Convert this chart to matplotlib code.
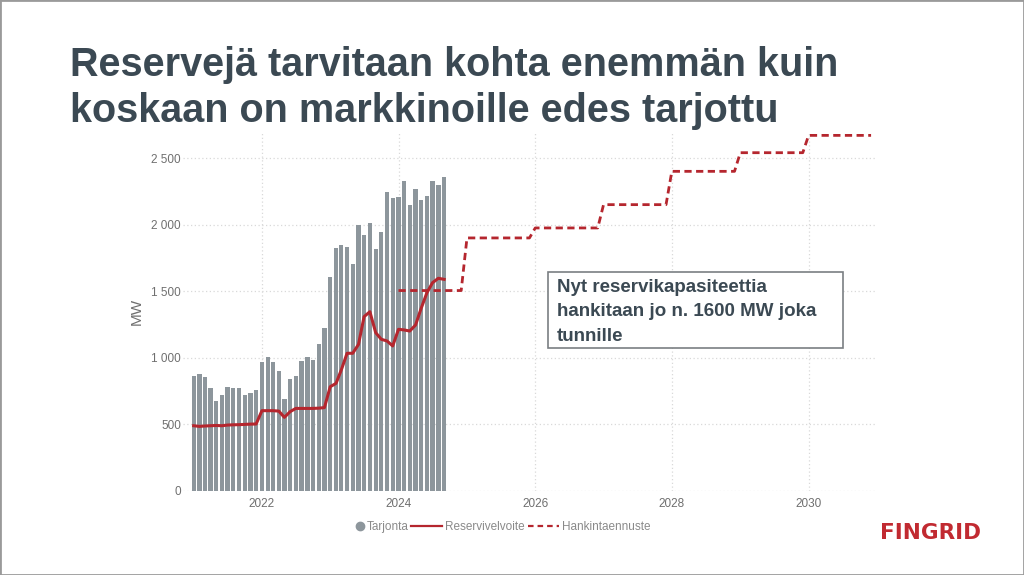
import datetime as dt
import matplotlib
matplotlib.use("Agg")
import matplotlib.pyplot as plt
from matplotlib.lines import Line2D
from matplotlib.patches import Rectangle
import matplotlib.ticker as mticker

# ---------------- data ----------------
start_year = 2021
tarjonta = [866, 878, 858, 773, 676, 718, 783, 771, 771, 721, 738, 756,
            971, 1008, 966, 903, 693, 838, 863, 976, 1003, 983, 1103, 1226,
            1609, 1822, 1847, 1829, 1704, 1994, 1919, 2014, 1819, 1947, 2242, 2202,
            2207, 2325, 2145, 2267, 2182, 2217, 2330, 2297, 2360]
reservivelvoite = [490, 485, 488, 490, 492, 490, 495, 497, 498, 500, 502, 503,
                   603, 603, 603, 600, 553, 596, 620, 620, 620, 620, 622, 626,
                   783, 808, 908, 1034, 1034, 1100, 1309, 1346, 1189, 1139, 1126, 1089,
                   1214, 1209, 1201, 1246, 1371, 1489, 1564, 1597, 1589]
hankinta_years = [2024, 2025, 2026, 2027, 2028, 2029, 2030]
hankinta_levels = [1505, 1900, 1975, 2150, 2400, 2540, 2670]

y_ticks = [0, 500, 1000, 1500, 2000, 2500]
x_tick_years = [2022, 2024, 2026, 2028, 2030]

title_text = "Reservejä tarvitaan kohta enemmän kuin\nkoskaan on markkinoille edes tarjottu"
note_text = "Nyt reservikapasiteettia\nhankitaan jo n. 1600 MW joka\ntunnille"
legend_labels = ["Tarjonta", "Reservivelvoite", "Hankintaennuste"]

# ---------------- style ----------------
BAR = "#8d969c"
RED = "#b5262e"
DARK = "#3b4953"
GRID = "#d9d9d9"
TICK = "#6f6f6f"
FONT = "Liberation Sans"

months = [dt.date(start_year + i // 12, i % 12 + 1, 1) for i in range(len(tarjonta))]
line_months = [dt.date(start_year + i // 12, i % 12 + 1, 1) for i in range(len(reservivelvoite))]

h_x, h_y = [], []
for yr, lv in zip(hankinta_years, hankinta_levels):
    h_x += [dt.date(yr, 1, 1), dt.date(yr, 12, 1)]
    h_y += [lv, lv]

fig = plt.figure(figsize=(10.24, 5.75), dpi=100)
fig.patch.set_facecolor("white")

ax = fig.add_axes([0.1787, 0.1461, 0.6758, 0.6254])
ax.set_facecolor("white")

bars = ax.bar(months, tarjonta, width=23, color=BAR, zorder=2)
line1, = ax.plot(line_months, reservivelvoite, color=RED, lw=2.2, zorder=3, solid_joinstyle="round")
line2, = ax.plot(h_x, h_y, color=RED, lw=2.0, dashes=(2.6, 1.6), zorder=3)

ax.set_xlim(dt.date(2020, 11, 5), dt.date(2030, 12, 22))
ax.set_ylim(0, 2700)
ax.set_yticks(y_ticks)
ax.yaxis.set_major_formatter(mticker.FuncFormatter(lambda v, p: f"{int(v):,}".replace(",", " ")))
ax.set_xticks([dt.date(y, 1, 1) for y in x_tick_years])
ax.set_xticklabels([str(y) for y in x_tick_years])

for s in ax.spines.values():
    s.set_visible(False)
ax.tick_params(length=0, labelsize=8.5, labelcolor=TICK)
ax.tick_params(axis="y", pad=1.5)
ax.tick_params(axis="x", pad=5)
for lab in ax.get_xticklabels() + ax.get_yticklabels():
    lab.set_fontfamily(FONT)
ax.grid(True, axis="both", color=GRID, lw=0.9, linestyle=(0, (1, 2)), zorder=0)
ax.set_axisbelow(True)
ax.set_ylabel("MW", fontsize=11, color=TICK, fontfamily=FONT, labelpad=5)

# annotation box
fig.patches.append(Rectangle((548 / 1024, 1 - 348 / 575), (843 - 548) / 1024, (348 - 272) / 575,
                             transform=fig.transFigure, facecolor="white", edgecolor="#7a7f83",
                             lw=1.2, zorder=1))
fig.text(557 / 1024, 1 - 312 / 575, note_text, fontsize=13.5, fontweight="bold",
         color=DARK, fontfamily=FONT, va="center", ha="left", linespacing=1.6, zorder=5)

# title
fig.text(70 / 1024, 1 - 88 / 575, title_text, fontsize=28.5, fontweight="bold", color=DARK,
         fontfamily=FONT, ha="left", va="center", linespacing=1.25)

# legend (two parts so the marker sits close to its label)
leg_y = 1 - 527 / 575
hA = [Line2D([], [], marker="o", color=BAR, linestyle="none", markersize=6)]
hB = [Line2D([], [], color=RED, lw=1.6), Line2D([], [], color=RED, lw=1.6, dashes=(2.5, 1.8))]
legA = fig.legend(hA, legend_labels[:1], loc="center right", bbox_to_anchor=(409 / 1024, leg_y),
                  frameon=False, handlelength=0.6, handletextpad=0.3, borderpad=0, borderaxespad=0,
                  prop={"family": FONT, "size": 8.5})
legB = fig.legend(hB, legend_labels[1:], loc="center left", bbox_to_anchor=(411 / 1024, leg_y),
                  ncol=2, frameon=False, handlelength=2.6, handletextpad=0.3, columnspacing=0.25,
                  borderpad=0, borderaxespad=0, prop={"family": FONT, "size": 8.5})
for lg in (legA, legB):
    for t in lg.get_texts():
        t.set_color("#8a8a8a")

# logo
fig.text(931 / 1024, 1 - 533 / 575, "FINGRID", fontsize=15.5, fontweight="bold", color="#c12a31",
         fontfamily="DejaVu Sans", ha="center", va="center")

# slide border
fig.patches.append(Rectangle((0, 0), 1, 1, transform=fig.transFigure, fill=False,
                             edgecolor="#9a9a9a", lw=2.0))

fig.savefig("out.png", dpi=100, facecolor="white")
